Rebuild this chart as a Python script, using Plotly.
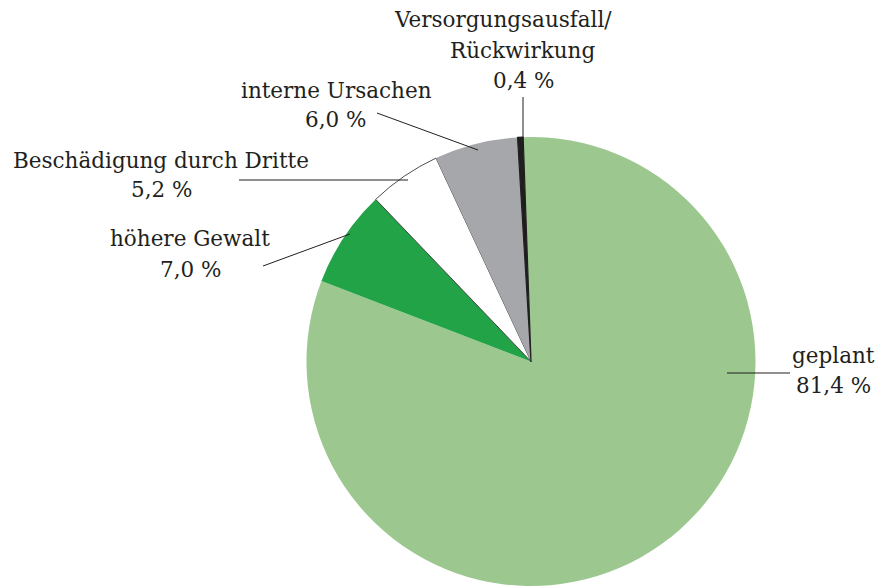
import plotly.graph_objects as go

# Ursachen der Versorgungsunterbrechungen
labels = ["geplant", "höhere Gewalt", "Beschädigung durch Dritte",
          "interne Ursachen", "Versorgungsausfall/Rückwirkung"]
values = [81.4, 7.0, 5.2, 6.0, 0.4]
colors = ["#9cc78f", "#22a347", "#ffffff", "#a6a7aa", "#1e1e1e"]

W, H = 886, 586
TXT = "#231f20"
FONT = "DejaVu Serif"
FS = 21.5


def px(x, y):
    return x / W, 1 - y / H


def pct(v):
    return f"{v:.1f} %".replace(".", ",")


fig = go.Figure()
fig.add_trace(go.Pie(
    labels=labels, values=values, sort=False, direction="clockwise",
    rotation=-2, textinfo="none", hoverinfo="label+percent",
    marker=dict(colors=colors, line=dict(color=TXT, width=[0, 0, 0.8, 0, 1.2])),
    domain=dict(x=[306 / W, 756 / W], y=[0, 449 / H]),
    showlegend=False,
))

# label lines: (text lines with centre x/y), leader line start -> end
label_pos = {
    "geplant": ([(833, 355, "geplant"), (833, 385, pct(values[0]))], (727, 373), (790, 373)),
    "höhere Gewalt": ([(190, 238, "höhere Gewalt"), (190, 269, pct(values[1]))], (350, 234), (263, 266)),
    "Beschädigung durch Dritte": ([(161, 160, "Beschädigung durch Dritte"), (161, 190, pct(values[2]))], (408, 180), (239, 180)),
    "interne Ursachen": ([(336, 90, "interne Ursachen"), (335, 120, pct(values[3]))], (478, 150), (377, 113)),
    "Versorgungsausfall/Rückwirkung": ([(503, 20, "Versorgungsausfall/"), (522, 50, "Rückwirkung"),
                                        (523, 81, pct(values[4]))], (523, 140), (523, 97)),
}

for lab in labels:
    lines, p0, p1 = label_pos[lab]
    for (x, y, t) in lines:
        ax, ay = px(x, y)
        fig.add_annotation(x=ax, y=ay, xref="paper", yref="paper", text=t,
                           showarrow=False, xanchor="center", yanchor="middle",
                           font=dict(family=FONT, size=FS, color=TXT))
    x0, y0 = px(*p0)
    x1, y1 = px(*p1)
    fig.add_shape(type="line", xref="paper", yref="paper", x0=x0, y0=y0, x1=x1, y1=y1,
                  line=dict(color=TXT, width=1))

fig.update_layout(width=W, height=H, margin=dict(l=0, r=0, t=0, b=0),
                  paper_bgcolor="white", plot_bgcolor="white",
                  font=dict(family=FONT, color=TXT))
fig.write_html("out.html", config={"displayModeBar": False},
               post_script="document.body.style.margin='0';")
